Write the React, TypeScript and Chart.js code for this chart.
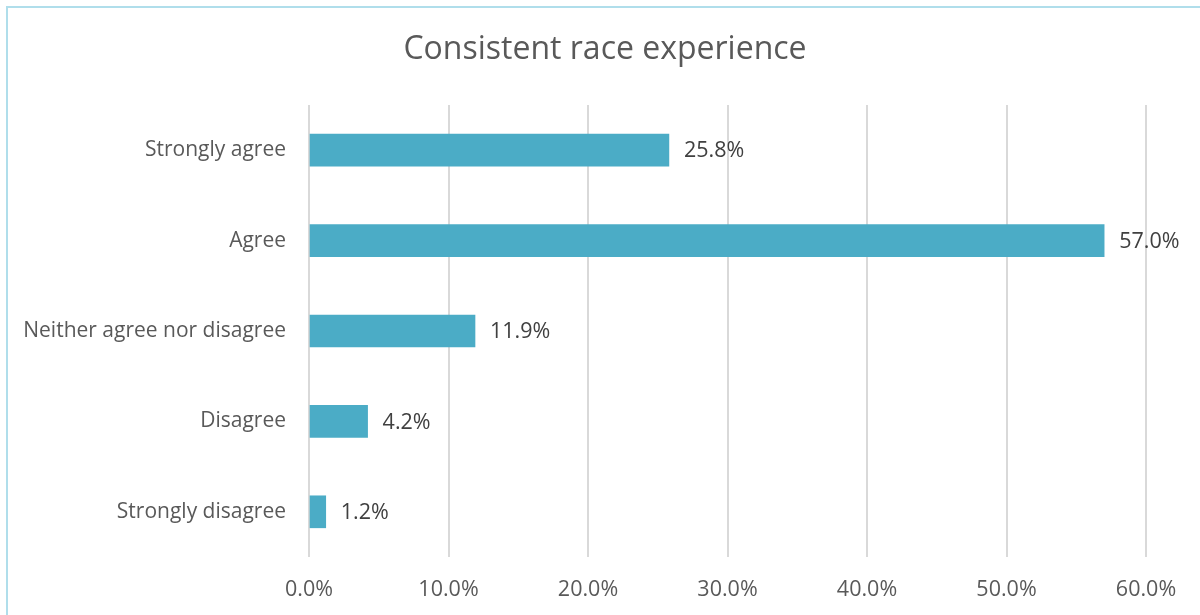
import React, { useEffect, useRef } from "react";
import { Chart, registerables } from "chart.js";

Chart.register(...registerables);

const categories = [
  "Strongly agree",
  "Agree",
  "Neither agree nor disagree",
  "Disagree",
  "Strongly disagree",
];
const values = [25.8, 57.0, 11.9, 4.2, 1.2];
const xTicks = [0, 10, 20, 30, 40, 50, 60];
const titleText = "Consistent race experience";

const FONT = "'Open Sans', 'DejaVu Sans', sans-serif";

const dataLabelPlugin = {
  id: "dataLabels",
  afterDatasetsDraw(chart: any) {
    const ctx = chart.ctx;
    const meta = chart.getDatasetMeta(0);
    ctx.save();
    ctx.font = `21.5px ${FONT}`;
    ctx.fillStyle = "#404040";
    ctx.textAlign = "left";
    ctx.textBaseline = "middle";
    meta.data.forEach((bar: any, i: number) => {
      const v = chart.data.datasets[0].data[i] as number;
      ctx.fillText(v.toFixed(1) + "%", bar.x + 15, bar.y + 1);
    });
    ctx.restore();
  },
};

const titlePlugin = {
  id: "pageTitle",
  afterDraw(chart: any) {
    const ctx = chart.ctx;
    ctx.save();
    ctx.font = `32px ${FONT}`;
    ctx.fillStyle = "#595959";
    ctx.textAlign = "center";
    ctx.textBaseline = "middle";
    ctx.fillText(titleText, chart.width / 2 + 5, 50);
    ctx.restore();
  },
};

export default function App() {
  const ref = useRef<HTMLCanvasElement | null>(null);

  useEffect(() => {
    document.body.style.margin = "0";
    if (!ref.current) return;
    const chart = new Chart(ref.current, {
      type: "bar",
      data: {
        labels: categories,
        datasets: [
          {
            data: values,
            backgroundColor: "#4BACC6",
            borderWidth: 0,
            barThickness: 32,
          },
        ],
      },
      plugins: [dataLabelPlugin, titlePlugin],
      options: {
        indexAxis: "y",
        animation: false,
        responsive: false,
        maintainAspectRatio: false,
        layout: { padding: { left: 0, right: 54, top: 105, bottom: 0 } },
        plugins: {
          legend: { display: false },
          tooltip: { enabled: false },
          title: { display: false },
        },
        scales: {
          x: {
            min: 0,
            max: 60,
            afterBuildTicks(scale: any) {
              scale.ticks = xTicks.map((v) => ({ value: v }));
            },
            afterFit(scale: any) {
              scale.height = 58;
            },
            grid: {
              color: "#d9d9d9",
              lineWidth: 2,
              drawTicks: false,
            },
            border: { display: false },
            ticks: {
              padding: 20,
              color: "#595959",
              font: { family: FONT, size: 21.5 },
              callback: (v: any) => Number(v).toFixed(1) + "%",
            },
          },
          y: {
            afterFit(scale: any) {
              scale.width = 309;
            },
            grid: { display: false, drawTicks: false },
            border: { display: false },
            ticks: {
              padding: 23,
              color: "#595959",
              font: { family: FONT, size: 21 },
            },
          },
        },
      },
    });
    return () => chart.destroy();
  }, []);

  return (
    <div style={{ position: "absolute", left: 0, top: 0, width: 1200, height: 615, overflow: "hidden", background: "#fff" }}>
      <div
        style={{
          position: "absolute",
          left: 6,
          top: 6,
          width: 1210,
          height: 630,
          border: "2px solid #b0deeb",
          boxSizing: "border-box",
        }}
      />
      <canvas ref={ref} width={1200} height={615} style={{ position: "absolute", left: 0, top: 0 }} />
    </div>
  );
}
